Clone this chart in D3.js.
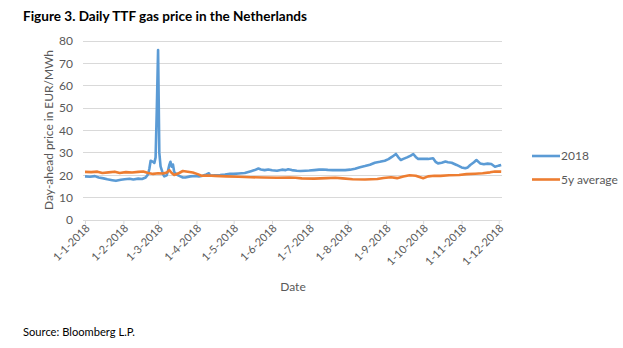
<!DOCTYPE html>
<html><head><meta charset="utf-8">
<script src="https://cdn.jsdelivr.net/npm/d3@7"></script>
<style>
body{margin:0;background:#fff;}
text{font-family:Lato,"Open Sans","Noto Sans",sans-serif;}
</style></head>
<body><svg id="c" width="623" height="348"></svg>
<script>
const dates2018 = ["2018-01-01","2018-01-05","2018-01-09","2018-01-12","2018-01-16","2018-01-19","2018-01-23","2018-01-26","2018-01-30","2018-02-02","2018-02-06","2018-02-09","2018-02-13","2018-02-16","2018-02-19","2018-02-21","2018-02-22","2018-02-23","2018-02-25","2018-02-26","2018-02-27","2018-02-28","2018-03-01","2018-03-02","2018-03-03","2018-03-05","2018-03-06","2018-03-08","2018-03-09","2018-03-10","2018-03-11","2018-03-12","2018-03-13","2018-03-14","2018-03-16","2018-03-19","2018-03-21","2018-03-23","2018-03-27","2018-03-31","2018-04-03","2018-04-06","2018-04-09","2018-04-11","2018-04-12","2018-04-16","2018-04-20","2018-04-24","2018-04-28","2018-05-01","2018-05-05","2018-05-10","2018-05-15","2018-05-18","2018-05-21","2018-05-23","2018-05-26","2018-05-29","2018-06-01","2018-06-05","2018-06-09","2018-06-12","2018-06-14","2018-06-17","2018-06-21","2018-06-24","2018-06-28","2018-07-01","2018-07-05","2018-07-09","2018-07-12","2018-07-16","2018-07-20","2018-07-25","2018-07-30","2018-08-03","2018-08-07","2018-08-11","2018-08-15","2018-08-19","2018-08-23","2018-08-27","2018-08-31","2018-09-03","2018-09-06","2018-09-09","2018-09-11","2018-09-13","2018-09-15","2018-09-18","2018-09-21","2018-09-23","2018-09-25","2018-09-27","2018-10-01","2018-10-05","2018-10-09","2018-10-11","2018-10-13","2018-10-16","2018-10-19","2018-10-21","2018-10-24","2018-10-28","2018-11-01","2018-11-04","2018-11-06","2018-11-08","2018-11-11","2018-11-13","2018-11-16","2018-11-19","2018-11-22","2018-11-25","2018-11-28","2018-12-01","2018-12-03"];
const values2018 = [19.5,19.3,19.6,19.0,18.6,18.2,17.8,17.5,18.0,18.2,18.4,18.1,18.5,18.3,19.0,20.5,23.0,26.5,26.0,25.5,28.0,50.0,76.0,30.0,24.0,20.5,19.5,20.0,22.0,24.5,26.0,23.8,24.8,21.5,20.3,19.5,19.0,19.0,19.5,19.7,19.5,19.8,20.4,20.9,19.9,20.0,20.1,20.3,20.6,20.6,20.8,21.0,21.8,22.3,23.0,22.6,22.3,22.6,22.2,22.0,22.5,22.3,22.7,22.3,22.0,21.9,22.0,22.1,22.3,22.5,22.6,22.4,22.3,22.3,22.3,22.5,22.9,23.6,24.1,24.7,25.6,26.0,26.5,27.2,28.3,29.5,28.0,26.8,27.3,28.0,28.8,29.5,28.2,27.3,27.3,27.3,27.6,26.0,25.3,25.6,26.1,25.8,25.6,24.6,23.5,23.1,23.5,24.6,25.8,26.8,25.3,24.9,25.2,25.0,23.8,24.3,24.6];

const datesAvg = ["2018-01-01","2018-01-06","2018-01-11","2018-01-15","2018-01-20","2018-01-25","2018-01-29","2018-02-03","2018-02-08","2018-02-13","2018-02-17","2018-02-21","2018-02-25","2018-03-01","2018-03-05","2018-03-08","2018-03-10","2018-03-12","2018-03-14","2018-03-18","2018-03-21","2018-03-25","2018-03-29","2018-04-02","2018-04-05","2018-04-10","2018-04-16","2018-04-25","2018-05-05","2018-05-15","2018-05-25","2018-06-05","2018-06-15","2018-06-20","2018-06-25","2018-07-05","2018-07-15","2018-07-22","2018-07-28","2018-08-05","2018-08-15","2018-08-25","2018-08-30","2018-09-05","2018-09-10","2018-09-15","2018-09-20","2018-09-25","2018-09-28","2018-10-01","2018-10-05","2018-10-10","2018-10-15","2018-10-22","2018-10-30","2018-11-05","2018-11-12","2018-11-18","2018-11-24","2018-11-28","2018-12-03"];
const valuesAvg = [21.5,21.4,21.6,21.0,21.3,21.6,21.0,21.4,21.2,21.5,21.7,21.0,20.6,20.9,20.8,21.2,22.3,21.0,20.1,21.0,21.9,21.6,21.2,20.5,19.8,19.9,19.7,19.5,19.3,19.1,19.0,18.9,19.0,18.9,18.6,18.5,18.7,18.9,18.6,18.2,18.1,18.3,18.8,19.1,18.7,19.4,20.0,19.8,19.2,18.7,19.5,19.8,19.7,20.0,20.1,20.5,20.7,20.9,21.3,21.7,21.6];

const yTicks = [0,10,20,30,40,50,60,70,80];
const xTickDates = ["2018-01-01","2018-02-01","2018-03-01","2018-04-01","2018-05-01","2018-06-01","2018-07-01","2018-08-01","2018-09-01","2018-10-01","2018-11-01","2018-12-01"];
const seriesNames = ["2018","5y average"];
const seriesColors = ["#5b9bd5","#ed7d31"];

const parse = d3.utcParse("%Y-%m-%d");
const fmt = d => `${d.getUTCDate()}-${d.getUTCMonth()+1}-${d.getUTCFullYear()}`;
const svg = d3.select("#c");

const x = d3.scaleUtc().domain([parse("2018-01-01"), parse("2018-12-03")]).range([85, 501.2]);
const y = d3.scaleLinear().domain([0,80]).range([220,41]);

// gridlines
svg.append("g").selectAll("line").data(yTicks.filter(v=>v>0)).join("line")
  .attr("x1",83).attr("x2",502).attr("y1",d=>y(d)).attr("y2",d=>y(d))
  .attr("stroke","#d9d9d9").attr("stroke-width",1).attr("shape-rendering","crispEdges");

// y axis labels
const ya = svg.append("g").attr("transform","translate(80,0)")
  .call(d3.axisLeft(y).tickValues(yTicks).tickSize(0).tickPadding(7));
ya.select(".domain").remove();
ya.selectAll("text").attr("font-size","12px").attr("fill","#595959").style("font-family","Lato,'Open Sans',sans-serif");

// x axis
const xa = svg.append("g").attr("transform","translate(0,220)")
  .call(d3.axisBottom(x).tickValues(xTickDates.map(parse)).tickSize(4).tickSizeOuter(0).tickFormat(fmt));
xa.select(".domain").attr("stroke","#d9d9d9").attr("d","M83,0.5H502");
xa.selectAll(".tick line").attr("stroke","#d9d9d9");
xa.selectAll("text").attr("font-size","11px").attr("fill","#595959")
  .style("font-family","Lato,'Open Sans',sans-serif")
  .attr("text-anchor","end").attr("dy","0").attr("y",0)
  .attr("transform","translate(5,9) rotate(-45)");

// lines
const line = d3.line().x(d=>x(d[0])).y(d=>y(d[1]));
const s1 = dates2018.map((d,i)=>[parse(d),values2018[i]]);
const s2 = datesAvg.map((d,i)=>[parse(d),valuesAvg[i]]);
[s1,s2].forEach((s,i)=>{
  svg.append("path").datum(s).attr("d",line).attr("fill","none")
    .attr("stroke",seriesColors[i]).attr("stroke-width",2.6).attr("stroke-linejoin","round");
});
// redraw 2018 on top? reference shows orange on top mostly
// legend
const lg = svg.append("g");
seriesNames.forEach((n,i)=>{
  const ly = 156 + i*23.5;
  lg.append("line").attr("x1",532).attr("x2",560).attr("y1",ly).attr("y2",ly)
    .attr("stroke",seriesColors[i]).attr("stroke-width",2.6);
  lg.append("text").attr("x",561).attr("y",ly+4).attr("font-size","12px").attr("fill","#595959").text(n);
});

// titles
svg.append("text").attr("x",23).attr("y",21).attr("font-size","14px").attr("font-weight","bold")
  .attr("fill","#000").attr("textLength",284).attr("lengthAdjust","spacingAndGlyphs")
  .text("Figure 3. Daily TTF gas price in the Netherlands");
svg.append("text").attr("transform","translate(53,130) rotate(-90)").attr("text-anchor","middle")
  .attr("font-size","12px").attr("fill","#595959").attr("textLength",160).attr("lengthAdjust","spacingAndGlyphs")
  .text("Day-ahead price in EUR/MWh");
svg.append("text").attr("x",293).attr("y",291).attr("text-anchor","middle")
  .attr("font-size","12px").attr("fill","#595959").text("Date");
svg.append("text").attr("x",23).attr("y",336).attr("font-size","11px").attr("fill","#000")
  .attr("textLength",112).attr("lengthAdjust","spacingAndGlyphs").text("Source: Bloomberg L.P.");
</script></body></html>
